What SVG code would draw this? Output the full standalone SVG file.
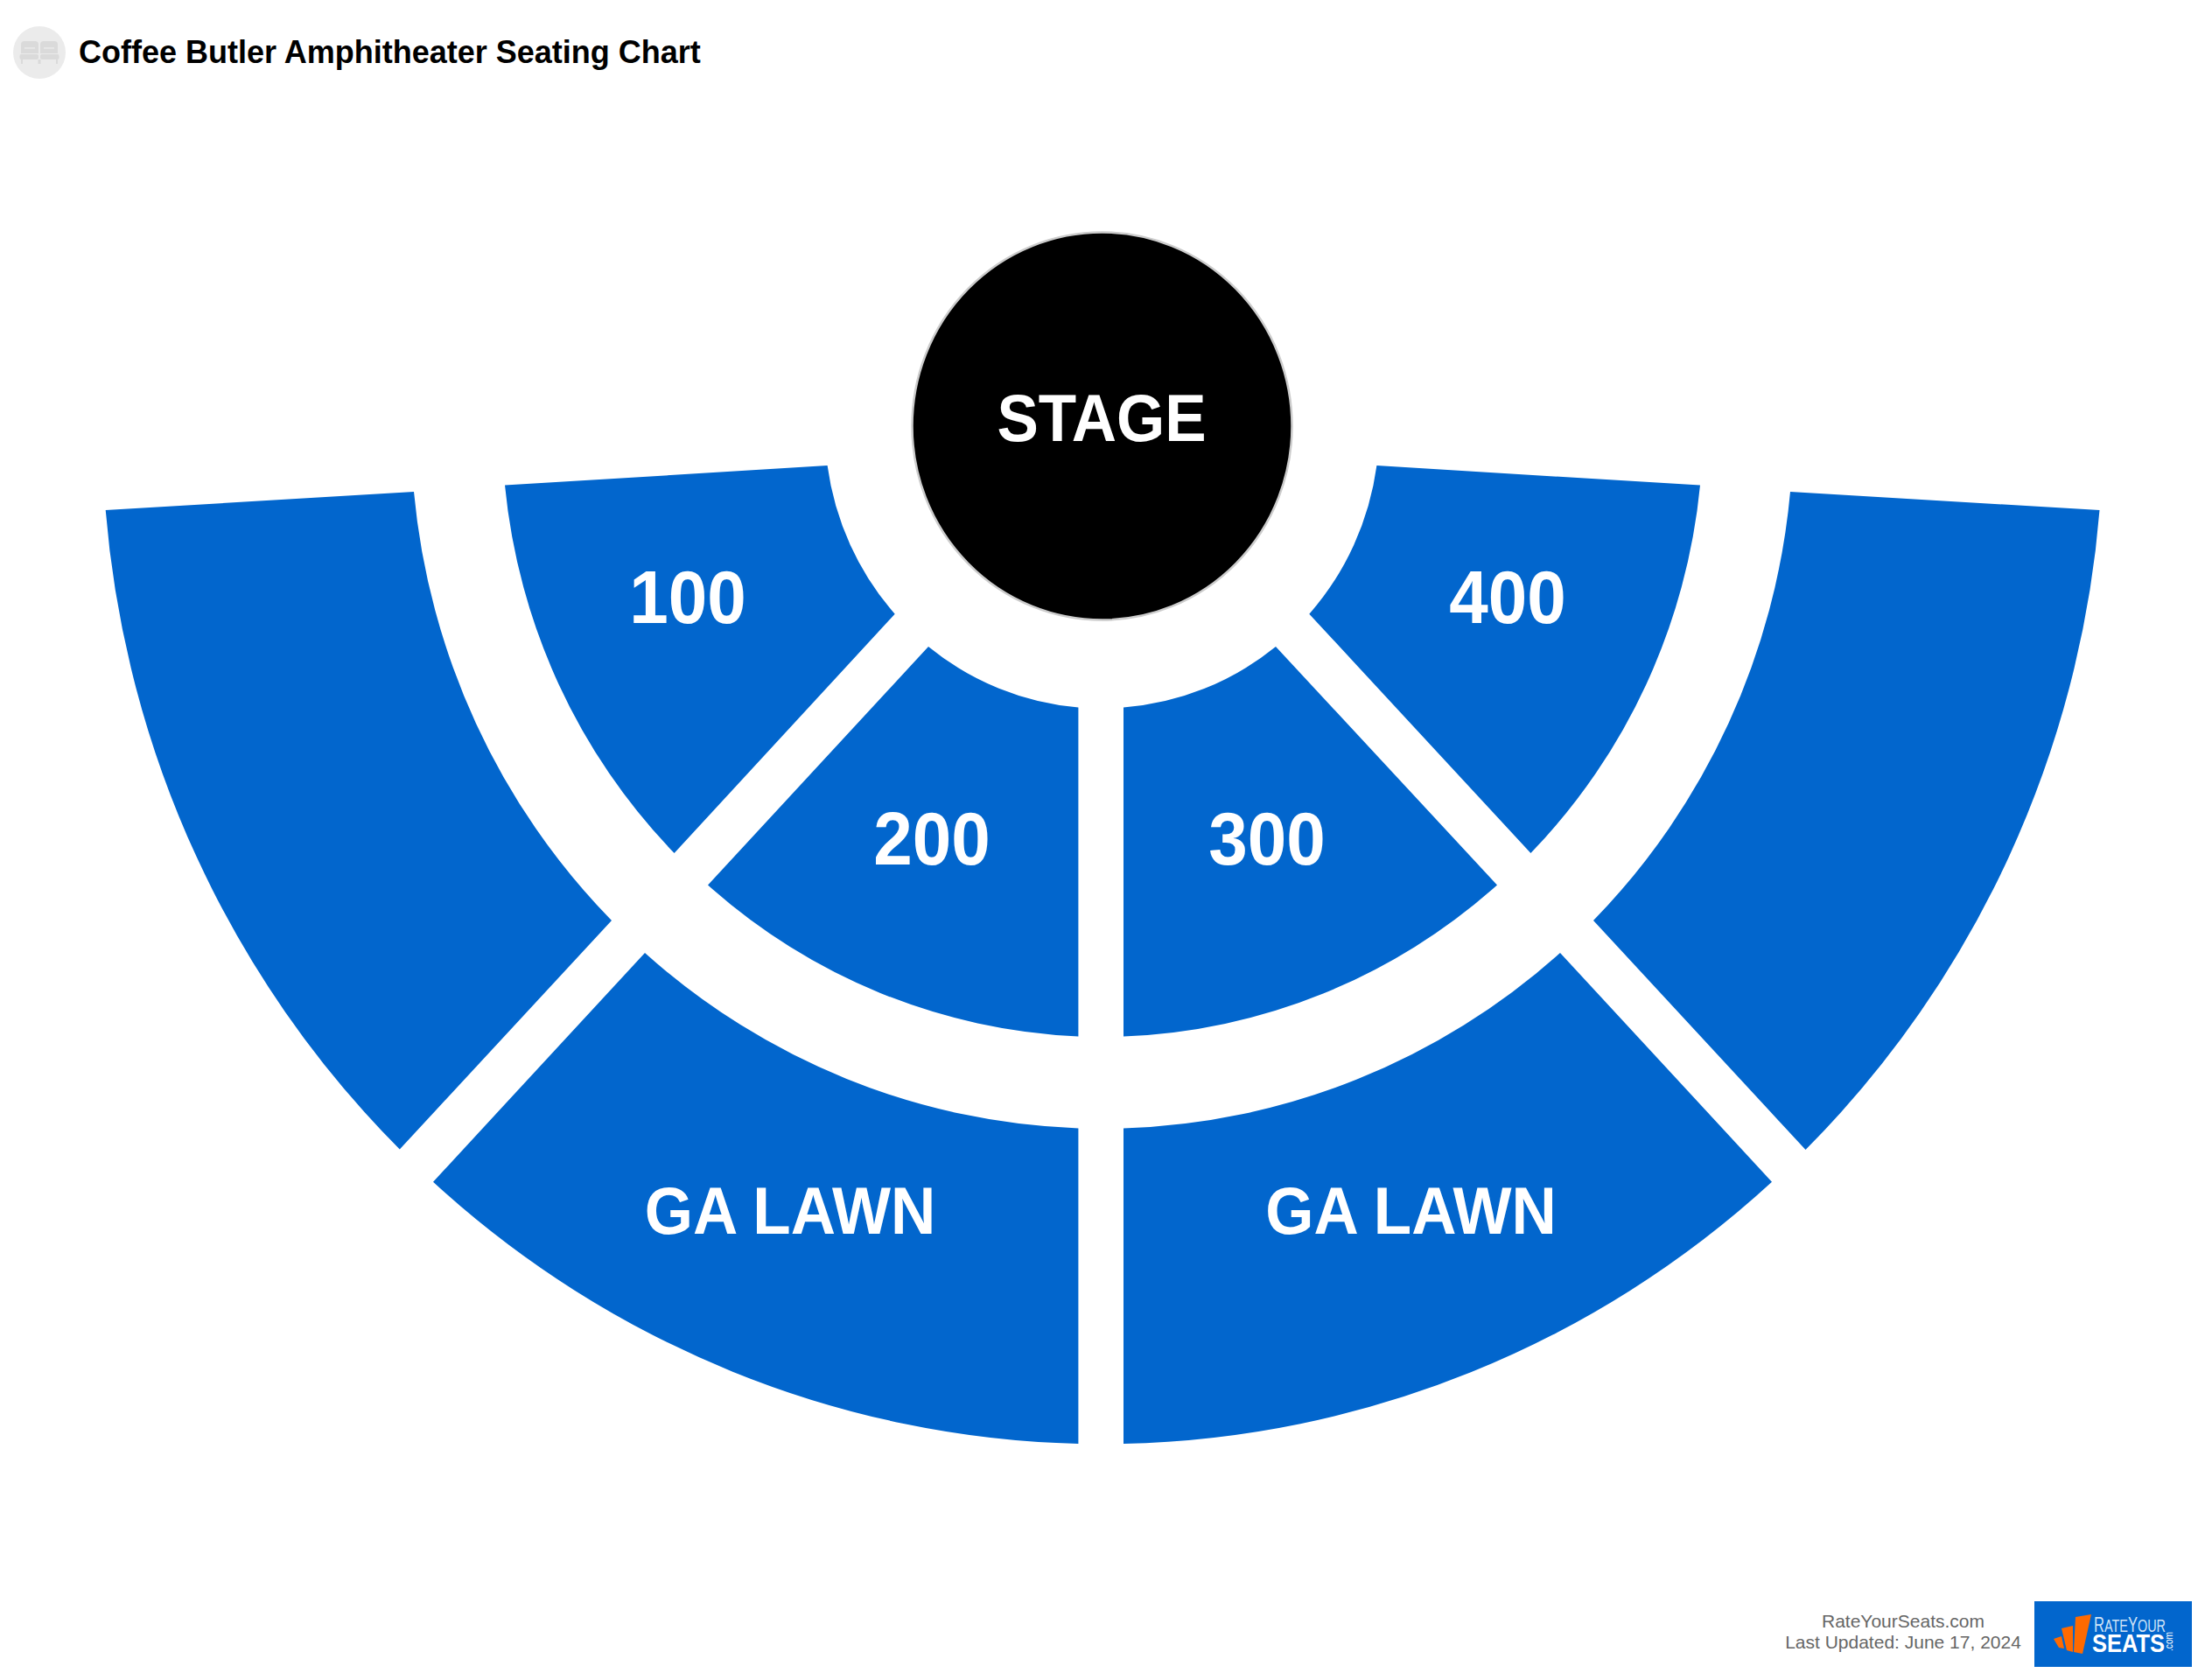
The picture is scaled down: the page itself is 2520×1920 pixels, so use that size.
<svg xmlns="http://www.w3.org/2000/svg" width="2520" height="1920" viewBox="0 0 2520 1920">
<style>
text{font-family:"Liberation Sans",Arial,sans-serif}
.sec{fill:#0266cd}
.lbl{fill:#fff;font-weight:700;text-anchor:middle}
.n{font-size:80px}
.g{font-size:71px}
.foot{fill:#666;font-size:21px;text-anchor:middle}
</style>
<rect width="2520" height="1920" fill="#fff"/>
<g id="header">
<circle cx="45" cy="60" r="30" fill="#ebebeb"/>
<g fill="#dadada">
<path d="M28 47h12a4 4 0 0 1 4 4v10H24V51a4 4 0 0 1 4-4z"/>
<path d="M50 47h12a4 4 0 0 1 4 4v10H46V51a4 4 0 0 1 4-4z"/>
<rect x="22.500" y="62" width="21.500" height="6" rx="2"/><rect x="46" y="62" width="21.500" height="6" rx="2"/>
<rect x="24" y="68" width="2" height="5"/><rect x="43.500" y="68" width="3" height="5"/><rect x="64" y="68" width="2" height="5"/>
</g>
<g fill="#e6e6e6"><rect x="28" y="54" width="12" height="2"/><rect x="50" y="54" width="12" height="2"/></g>
<text x="90" y="72" font-size="36" font-weight="700" fill="#000">Coffee Butler Amphitheater Seating Chart</text>
</g>
<g id="section-left-outer"><path class="sec" d="M120.700 583L473 562A790 802 0 0 0 699 1052L456.800 1313.500A1142 1162 0 0 1 120.700 583Z"/></g>
<g id="section-100"><path class="sec" d="M577 554.600L945.600 532A316 321 0 0 0 1022.700 701.700L770.600 975A685 697 0 0 1 577 554.600Z"/><text class="lbl n" transform="translate(786 712) scale(1 1.07)">100</text></g>
<g id="section-200"><path class="sec" d="M809 1011.500L1061 739A316 321 0 0 0 1232.400 808.500V1184.500A685 697 0 0 1 809 1011.500Z"/><text class="lbl n" transform="translate(1065 988) scale(1 1.07)">200</text></g>
<g id="section-300"><path class="sec" d="M1711 1011.500L1458 739A316 321 0 0 1 1284 808.500V1184.500A685 697 0 0 0 1711 1011.500Z"/><text class="lbl n" transform="translate(1448 988) scale(1 1.07)">300</text></g>
<g id="section-400"><path class="sec" d="M1943 554.600L1573.400 532A316 321 0 0 1 1496.300 701.700L1749.400 975A685 697 0 0 0 1943 554.600Z"/><text class="lbl n" transform="translate(1723 712) scale(1 1.07)">400</text></g>
<g id="section-ga-left"><path class="sec" d="M737 1089A790 802 0 0 0 1232.400 1289.500V1650A1142 1162 0 0 1 495 1350.700Z"/><text class="lbl g" transform="translate(903 1410) scale(1 1.08)">GA LAWN</text></g>
<g id="section-ga-right"><path class="sec" d="M1783 1089A790 802 0 0 1 1284 1289.500V1650A1142 1162 0 0 0 2025 1350.700Z"/><text class="lbl g" transform="translate(1612.500 1410) scale(1 1.08)">GA LAWN</text></g>
<g id="section-right-outer"><path class="sec" d="M2399.500 583L2046 562A790 802 0 0 1 1821 1052L2063.500 1314A1142 1162 0 0 0 2399.500 583Z"/></g>
<g id="stage"><ellipse cx="1259.500" cy="487" rx="217" ry="221.500" fill="#000" stroke="#ccc" stroke-width="2.500"/><text class="lbl g" transform="translate(1259 503.500) scale(1 1.08)">STAGE</text></g>
<g id="footer">
<text class="foot" x="2175" y="1860">RateYourSeats.com</text>
<text class="foot" x="2175" y="1884">Last Updated: June 17, 2024</text>
</g>
<g id="logo">
<rect x="2325" y="1830" width="180" height="75" fill="#0266cd"/>
<g fill="#ff6a00">
<path d="M2347 1873l9-3 3 14-6-1z"/>
<path d="M2356 1861l13-3v30l-7-2z"/>
<path d="M2372 1848l18-3-10 45-10-2z"/>
</g>
<text x="2393" y="1865" font-size="23" fill="#cfe3f7" textLength="82" lengthAdjust="spacingAndGlyphs">R<tspan font-size="20">ATE</tspan>Y<tspan font-size="20">OUR</tspan></text>
<text x="2391" y="1888" font-size="30" font-weight="700" fill="#fff" textLength="83" lengthAdjust="spacingAndGlyphs">SEATS</text>
<text transform="translate(2483 1887) rotate(-90)" font-size="13" fill="#fff" textLength="22" lengthAdjust="spacingAndGlyphs">.com</text>
</g>
</svg>
